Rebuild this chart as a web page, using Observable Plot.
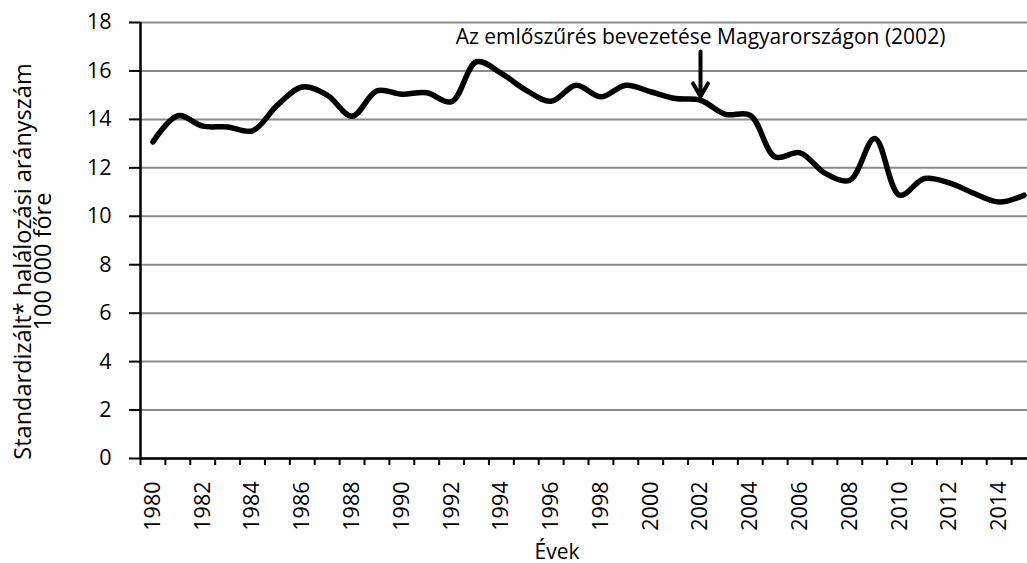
<!DOCTYPE html>
<html><head><meta charset="utf-8">
<script src="https://cdn.jsdelivr.net/npm/d3@7"></script>
<script src="https://cdn.jsdelivr.net/npm/@observablehq/plot@0.6"></script>
<style>html,body{margin:0;padding:0;background:#fff}#chart svg{display:block}</style>
</head><body><div id="chart"></div>
<script>
const years = [1980,1981,1982,1983,1984,1985,1986,1987,1988,1989,1990,1991,1992,1993,1994,1995,1996,1997,1998,1999,2000,2001,2002,2003,2004,2005,2006,2007,2008,2009,2010,2011,2012,2013,2014,2015];
const rates = [13.07,14.15,13.72,13.69,13.53,14.59,15.34,15.0,14.13,15.18,15.04,15.1,14.73,16.38,15.9,15.2,14.75,15.41,14.93,15.41,15.14,14.86,14.79,14.21,14.17,12.45,12.62,11.78,11.49,13.21,10.87,11.56,11.38,10.94,10.59,10.87];
const yTicks = [0,2,4,6,8,10,12,14,16,18];
const xLabelYears = [1980,1982,1984,1986,1988,1990,1992,1994,1996,1998,2000,2002,2004,2006,2008,2010,2012,2014];
const yTitleLines = ["Standardizált* halálozási arányszám", "100 000 főre"];
const xTitle = "Évek";
const annotationText = "Az emlőszűrés bevezetése Magyarországon (2002)";
const annotationYear = 2002;
const arrowFrom = 16.8, arrowTo = 14.95, annotationY = 17.4;

const data = years.map((y, i) => ({year: y, rate: rates[i]}));
const boundaries = years.map(y => y - 0.5).concat([years[years.length - 1] + 0.5]);

const chart = Plot.plot({
  width: 1027, height: 563,
  marginTop: 22, marginBottom: 105, marginLeft: 140, marginRight: 0,
  style: {fontFamily: "'Open Sans', sans-serif", fontSize: "21px", color: "black", background: "white"},
  x: {domain: [1979.5, 2015.5], range: [140, 1036]},
  y: {domain: [0, 18]},
  marks: [
    Plot.gridY(yTicks, {stroke: "#8a8a8a", strokeOpacity: 1, strokeWidth: 2}),
    Plot.axisY(yTicks, {tickSize: 11, tickPadding: 18, strokeWidth: 2, label: null, fontSize: 21.5}),
    Plot.axisX(boundaries, {tickSize: 7, strokeWidth: 2, tickFormat: () => "", label: null}),
    Plot.axisX(xLabelYears, {tickSize: 0, tickPadding: 23, tickRotate: -90, tickFormat: d => String(d), label: null, fontSize: 21.5}),
    Plot.ruleY([0], {strokeWidth: 2.5}),
    Plot.ruleX([1979.5], {strokeWidth: 2.5}),
    Plot.line(data, {x: "year", y: "rate", curve: "catmull-rom", stroke: "black", strokeWidth: 5.5, strokeLinecap: "round", strokeLinejoin: "round"}),
    Plot.arrow([annotationYear], {x1: d => d, x2: d => d, y1: arrowFrom, y2: arrowTo, strokeWidth: 4, headLength: 15}),
    Plot.text([annotationText], {text: d => d, x: annotationYear, y: annotationY, fontSize: 21}),
    Plot.text([yTitleLines.join("\n")], {text: d => d, frameAnchor: "left", textAnchor: "middle", rotate: -90, dx: -106, dy: 21, lineHeight: 0.86, fontSize: 23.5}),
    Plot.text([xTitle], {text: d => d, frameAnchor: "bottom", dx: -27, dy: 100, fontSize: 21})
  ]
});
document.getElementById("chart").appendChild(chart);
</script>
</body></html>
